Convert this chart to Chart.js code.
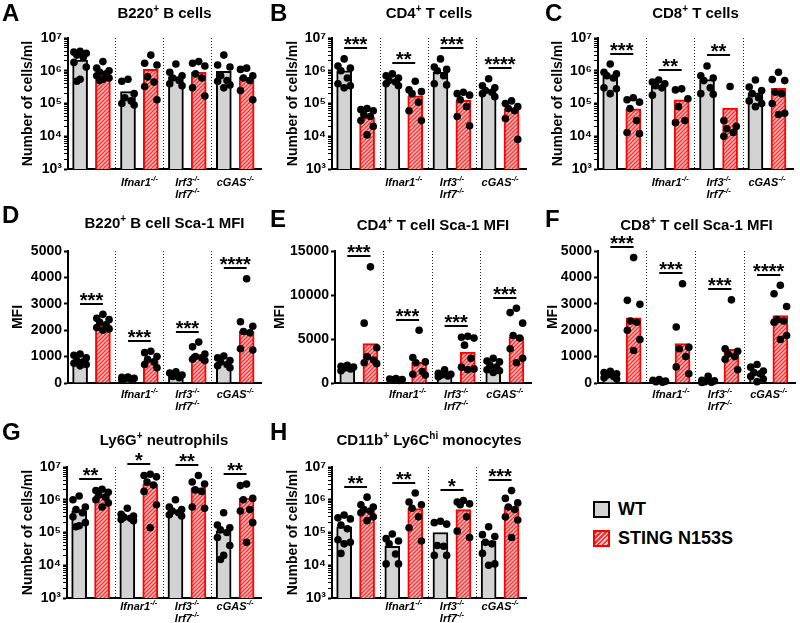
<!DOCTYPE html>
<html>
<head>
<meta charset="utf-8">
<script src="https://cdn.jsdelivr.net/npm/chart.js@4.4.1/dist/chart.umd.min.js"></script>
<style>
  body { margin: 0; background: #fff; width: 800px; height: 623px; position: relative; overflow: hidden;
         font-family: 'Liberation Sans', Arial, sans-serif; }
  canvas { position: absolute; }
  .sw { position: absolute; left: 593px; width: 13px; height: 13px; border: 2px solid #000; background: #d3d3d3; }
  .sw.st { border-color: #ff0000;
           background: repeating-linear-gradient(135deg, #ff3030 0 1.5px, #ffc4c4 1.5px 3.5px); }
  .lg { position: absolute; left: 618px; font-weight: bold; font-size: 18px; line-height: 20px; }
</style>
</head>
<body>
<div class="sw" style="top:501px"></div><div class="lg" style="top:499px">WT</div>
<div class="sw st" style="top:530px"></div><div class="lg" style="top:528px">STING N153S</div>
<script>
// ---- data ----
const groupLabels = [[], [['Ifnar1', '-/-']], [['Irf3', '-/-'], ['Irf7', '-/-']], [['cGAS', '-/-']]];
const titles = [
  [['B220', 0], ['+', 1], [' B cells', 0]],
  [['CD4', 0], ['+', 1], [' T cells', 0]],
  [['CD8', 0], ['+', 1], [' T cells', 0]],
  [['B220', 0], ['+', 1], [' B cell Sca-1 MFI', 0]],
  [['CD4', 0], ['+', 1], [' T cell Sca-1 MFI', 0]],
  [['CD8', 0], ['+', 1], [' T cell Sca-1 MFI', 0]],
  [['Ly6G', 0], ['+', 1], [' neutrophils', 0]],
  [['CD11b', 0], ['+', 1], [' Ly6C', 0], ['hi', 1], [' monocytes', 0]]
];
const countLabel = 'Number of cells/ml';
const mfiLabel = 'MFI';
const logTicks = [1e3, 1e4, 1e5, 1e6, 1e7];
const mfi5Ticks = [0, 1000, 2000, 3000, 4000, 5000];
const mfi15Ticks = [0, 5000, 10000, 15000];

const aWtMean = [2.1e6, 2.3e5, 6.6e5, 9.6e5];
const aStMean = [8.7e5, 1.1e6, 9e5, 6.3e5];
const aWtPts = [[3.9e6, 3.7e6, 3.4e6, 3.0e6, 2.6e6, 1.8e6, 1.3e6, 5.5e5, 4.8e5], [5.5e5, 4.8e5, 2e5, 1.5e5, 1.2e5, 1e5, 9e4], [1.6e6, 9e5, 7e5, 6e5, 5e5, 4e5, 3.5e5], [3e6, 1.5e6, 1.3e6, 7e5, 5e5, 4.8e5, 3.7e5, 3e5]];
const aStPts = [[1.9e6, 1.2e6, 1.0e6, 9e5, 8e5, 7e5, 6e5, 5.5e5, 5e5], [3e6, 1.7e6, 1.5e6, 6.5e5, 4.5e5, 3.3e5, 1.3e5], [1.9e6, 1.7e6, 1.4e6, 8e5, 6e5, 3e5, 1.7e5], [1.2e6, 1.1e6, 7e5, 6e5, 5e5, 2.5e5, 1.3e5]];
const aStars = ['', '', '', ''];

const bWtMean = [1.0e6, 5.2e5, 9.1e5, 2.4e5];
const bStMean = [3.8e4, 1.7e5, 1.26e5, 6.7e4];
const bWtPts = [[2.3e6, 1.4e6, 1.2e6, 1e6, 6e5, 4e5, 3.5e5, 3e5], [8e5, 7e5, 6e5, 5e5, 4.5e5, 4e5, 3.5e5], [2.3e6, 1.3e6, 1.1e6, 1e6, 7e5, 4e5, 3.7e5], [5.7e5, 3.5e5, 3e5, 2.5e5, 2.2e5, 2e5, 1.6e5]];
const bStPts = [[7e4, 6.5e4, 6e4, 4.5e4, 4e4, 3e4, 2e4, 1.1e4], [4.8e5, 2.6e5, 2.3e5, 2e5, 1.1e5, 6e4, 3e4], [2.2e5, 2e5, 1.8e5, 1.3e5, 8e4, 4e4, 2.1e4], [1.2e5, 1e5, 8e4, 7e4, 6e4, 3.5e4, 8e3]];
const bStars = ['***', '**', '***', '****'];

const cWtMean = [6.8e5, 3.4e5, 5.4e5, 2.1e5];
const cStMean = [6.9e4, 1.3e5, 7.2e4, 2.9e5];
const cWtPts = [[1.6e6, 9e5, 8e5, 7e5, 6e5, 3e5, 2.8e5, 2e5], [5.2e5, 4.5e5, 4e5, 3.5e5, 3e5, 1.8e5], [1.4e6, 7e5, 6e5, 5e5, 3e5, 2e5, 1.9e5], [5.2e5, 3.2e5, 2.5e5, 2e5, 1.5e5, 1.2e5, 1e5, 8e4]];
const cStPts = [[1.5e5, 1.3e5, 1.1e5, 7e4, 3e4, 1.3e4, 1.2e4], [2.8e5, 2.6e5, 1.4e5, 8e4, 3e4, 2.6e4], [3.3e5, 3e4, 2e4, 1.7e4, 1.3e4, 1e4], [9e5, 5.4e5, 5e5, 2.2e5, 2e5, 1e5, 5e4, 4.6e4]];
const cStars = ['***', '**', '**', ''];

const dWtMean = [880, 190, 290, 780];
const dStMean = [2200, 850, 1080, 1970];
const dWtPts = [[1100, 1050, 950, 850, 800, 750, 700, 650], [230, 220, 180, 150, 130, 110], [420, 380, 300, 250, 200], [1020, 950, 850, 800, 700, 650, 580]];
const dStPts = [[2600, 2450, 2400, 2300, 2200, 2100, 2050, 2000], [1200, 1150, 1000, 900, 800, 700, 580], [1550, 1370, 1100, 1000, 950, 900, 850], [3950, 2320, 2150, 1950, 1900, 1300, 1250]];
const dStars = ['***', '***', '***', '****'];

const eWtMean = [1520, 420, 1000, 1820];
const eStMean = [4480, 2350, 3500, 5240];
const eWtPts = [[2000, 1900, 1800, 1700, 1600, 1400], [500, 450, 400, 350, 300], [1500, 1100, 1000, 900, 800, 700], [2800, 2500, 2400, 2000, 1800, 1500, 1400, 1200]];
const eStPts = [[13200, 6800, 4000, 3000, 2600, 2300, 2200], [6000, 2900, 2400, 2300, 1300, 1000, 900], [5300, 5200, 5100, 4300, 2800, 1800, 1600, 1500], [8500, 8000, 6800, 5400, 5100, 3900, 2800, 2300]];
const eStars = ['***', '***', '***', '***'];

const fWtMean = [290, 70, 40, 350];
const fStMean = [2470, 1490, 1280, 2550];
const fWtPts = [[440, 400, 350, 300, 250, 200, 150], [130, 100, 70, 50, 30], [250, 100, 80, 50, 30, 20], [700, 600, 450, 400, 350, 250, 150, 50]];
const fStPts = [[4750, 3130, 2980, 2350, 2300, 2000, 1650, 1230], [3760, 2120, 1350, 1300, 1000, 610, 350], [3150, 1300, 1200, 1100, 1000, 900, 500], [3700, 3380, 2900, 2400, 2350, 2300, 1800, 1650]];
const fStars = ['***', '***', '***', '****'];

const gWtMean = [4.6e5, 3e5, 4.8e5, 1.1e5];
const gStMean = [1.38e6, 3e6, 2.3e6, 1.1e6];
const gWtPts = [[1.3e6, 1e6, 6e5, 5e5, 4e5, 3e5, 2e5, 1.6e5, 1.5e5], [5.5e5, 3.6e5, 3.2e5, 2.9e5, 2.7e5, 2.5e5, 2.3e5], [1e6, 6e5, 5e5, 4.5e5, 4e5, 3.5e5, 3.2e5], [4e5, 1.7e5, 1.4e5, 1.2e5, 1e5, 7e4, 4e4, 2e4, 1.5e4]];
const gStPts = [[2.1e6, 1.9e6, 1.7e6, 1.4e6, 1.2e6, 1e6, 8e5, 6e5], [6e6, 5.5e6, 5e6, 3.5e6, 2.8e6, 1.8e6, 7e5, 1.4e5], [5.5e6, 3.5e6, 3e6, 2e6, 1.8e6, 6e5, 5.5e5], [3e6, 2.7e6, 1.1e6, 1e6, 5e5, 4.5e5, 2e5, 5e4]];
const gStars = ['**', '*', '**', '**'];

const hWtMean = [1.5e5, 3.8e4, 1e5, 5.4e4];
const hStMean = [5e5, 5.4e5, 5e5, 6e5];
const hWtPts = [[3.4e5, 2.8e5, 2.6e5, 1.7e5, 1.3e5, 6e4, 5e4, 4.5e4, 2.3e4], [9e4, 6.5e4, 5.5e4, 4.5e4, 2.2e4, 1.1e4, 1.1e4], [2.2e5, 2e5, 1.8e5, 4e4, 3.8e4, 2e4, 2e4], [1.5e5, 8.6e4, 7.5e4, 5e4, 4.5e4, 2.3e4, 1.1e4, 1e4]];
const hStPts = [[1.2e6, 7e5, 6e5, 5e5, 4.5e5, 4e5, 3e5, 2.3e5], [1.6e6, 8.5e5, 7e5, 5.5e5, 3e5, 1.4e5, 5.5e4], [9.5e5, 8.5e5, 7.5e5, 7e5, 3e5, 1.1e5, 7e4], [1.9e6, 1.1e6, 8e5, 6e5, 5e5, 3e5, 2.4e5, 7e4]];
const hStars = ['**', '**', '*', '***'];

// ---- layout ----
const FONT = "'Liberation Sans', Arial, sans-serif";
Chart.defaults.font.family = FONT;
Chart.defaults.color = '#000';
const SUP = {3: '\u00b3', 4: '\u2074', 5: '\u2075', 6: '\u2076', 7: '\u2077'};
const JITTER = [0, -0.27, 0.27, -0.14, 0.14, -0.27, 0.27, 0, -0.14, 0.14];
const slot = (g, m) => g * 2.1 + m;

// lb = baseline offset of the genotype labels below the x axis
const panels = [
  {letter: 'A', title: titles[0], box: [0, 0, 265, 200], ax: 68, right: 262, top: 38, bottom: 169, yt: 28, titleY: 13, lp: [2, 21], lb: 17, ticks: logTicks, yLabel: countLabel, wtMean: aWtMean, stMean: aStMean, wtPts: aWtPts, stPts: aStPts, stars: aStars},
  {letter: 'B', title: titles[1], box: [265, 0, 265, 200], ax: 332, right: 527, top: 38, bottom: 169, yt: 28, titleY: 13, lp: [5, 21], lb: 17, ticks: logTicks, yLabel: countLabel, wtMean: bWtMean, stMean: bStMean, wtPts: bWtPts, stPts: bStPts, stars: bStars},
  {letter: 'C', title: titles[2], box: [530, 0, 270, 200], ax: 598, right: 793, top: 38, bottom: 169, yt: 28, titleY: 13, lp: [15, 21], lb: 17, ticks: logTicks, yLabel: countLabel, wtMean: cWtMean, stMean: cStMean, wtPts: cWtPts, stPts: cStPts, stars: cStars},
  {letter: 'D', title: titles[3], box: [0, 200, 265, 210], ax: 68, right: 262, top: 251, bottom: 383, yt: 18, titleY: 23, lp: [2, 23], lb: 15, ticks: mfi5Ticks, yLabel: mfiLabel, wtMean: dWtMean, stMean: dStMean, wtPts: dWtPts, stPts: dStPts, stars: dStars},
  {letter: 'E', title: titles[4], box: [265, 200, 270, 210], ax: 335, right: 532, top: 251, bottom: 383, yt: 15, titleY: 25, lp: [5, 27], lb: 15, ticks: mfi15Ticks, yLabel: mfiLabel, wtMean: eWtMean, stMean: eStMean, wtPts: eWtPts, stPts: eStPts, stars: eStars},
  {letter: 'F', title: titles[5], box: [530, 200, 270, 210], ax: 598, right: 795, top: 251, bottom: 383, yt: 23, titleY: 25, lp: [15, 27], lb: 15, ticks: mfi5Ticks, yLabel: mfiLabel, wtMean: fWtMean, stMean: fStMean, wtPts: fWtPts, stPts: fStPts, stars: fStars},
  {letter: 'G', title: titles[6], box: [0, 410, 265, 213], ax: 67, right: 262, top: 467, bottom: 598, yt: 28, titleY: 30, lp: [2, 30], lb: 12, ticks: logTicks, yLabel: countLabel, wtMean: gWtMean, stMean: gStMean, wtPts: gWtPts, stPts: gStPts, stars: gStars},
  {letter: 'H', title: titles[7], box: [265, 410, 265, 213], ax: 332, right: 527, top: 467, bottom: 598, yt: 28, titleY: 30, lp: [5, 30], lb: 12, ticks: logTicks, yLabel: countLabel, wtMean: hWtMean, stMean: hStMean, wtPts: hWtPts, stPts: hStPts, stars: hStars}
];

function hatchPattern() {
  const c = document.createElement('canvas');
  c.width = c.height = 4;
  const g = c.getContext('2d');
  g.fillStyle = '#ffc4c4';
  g.fillRect(0, 0, 4, 4);
  g.strokeStyle = '#ff2e2e';
  g.lineWidth = 1.4;
  g.beginPath();
  g.moveTo(-1, 5); g.lineTo(5, -1);
  g.moveTo(-1, 1); g.lineTo(1, -1);
  g.moveTo(3, 5); g.lineTo(5, 3);
  g.stroke();
  return g.createPattern(c, 'repeat');
}
const HATCH = hatchPattern();

function segText(ctx, segs, cx, y, size, supSize, style) {
  const fb = style + ' ' + size + 'px ' + FONT, fs = style + ' ' + supSize + 'px ' + FONT;
  let w = 0;
  segs.forEach(s => { ctx.font = s[1] ? fs : fb; w += ctx.measureText(s[0]).width; });
  let x = cx - w / 2;
  ctx.textAlign = 'left';
  ctx.textBaseline = 'alphabetic';
  segs.forEach(s => {
    ctx.font = s[1] ? fs : fb;
    ctx.fillText(s[0], x, s[1] ? y - size * 0.42 : y);
    x += ctx.measureText(s[0]).width;
  });
}

function drawDecor(chart, p) {
  const {ctx, chartArea: ca, scales: {x, y}} = chart;
  ctx.save();
  ctx.fillStyle = '#000';
  // panel letter and title
  ctx.font = 'bold 24px ' + FONT;
  ctx.textAlign = 'left';
  ctx.textBaseline = 'alphabetic';
  ctx.fillText(p.letter, p.lp[0], p.lp[1]);
  segText(ctx, p.title, (ca.left + ca.right) / 2, p.titleY + 5, 15, 10, 'bold');
  // dotted separators
  ctx.strokeStyle = '#222';
  ctx.lineWidth = 1;
  ctx.setLineDash([1, 2]);
  for (let g = 1; g < 4; g++) {
    const px = Math.round(x.getPixelForValue(slot(g, 0) - 0.55)) + 0.5;
    ctx.beginPath();
    ctx.moveTo(px, ca.top);
    ctx.lineTo(px, ca.bottom);
    ctx.stroke();
  }
  ctx.setLineDash([]);
  // genotype labels
  groupLabels.forEach((lines, g) => {
    const cx = x.getPixelForValue(slot(g, 0) + 0.5);
    lines.forEach((ln, i) => segText(ctx, [[ln[0], 0], [ln[1], 1]], cx, ca.bottom + p.lb + i * 12, 11, 7.5, 'italic bold'));
  });
  // significance bars
  ctx.strokeStyle = '#000';
  ctx.lineWidth = 2;
  p.stars.forEach((st, g) => {
    if (!st) return;
    const top = Math.max(...p.wtPts[g], ...p.stPts[g], p.wtMean[g], p.stMean[g]);
    const ly = Math.round(y.getPixelForValue(top) - 0.08 * (ca.bottom - ca.top));
    const x0 = x.getPixelForValue(slot(g, 0)), x1 = x.getPixelForValue(slot(g, 1));
    ctx.beginPath();
    ctx.moveTo(x0, ly);
    ctx.lineTo(x1, ly);
    ctx.stroke();
    ctx.font = 'bold 20px ' + FONT;
    ctx.textAlign = 'center';
    ctx.fillText(st, (x0 + x1) / 2, ly + 3);
  });
  ctx.restore();
}

function makeChart(p) {
  const [bx, by, bw, bh] = p.box;
  const cv = document.createElement('canvas');
  cv.width = bw; cv.height = bh;
  cv.style.left = bx + 'px'; cv.style.top = by + 'px';
  document.body.appendChild(cv);

  const log = p.ticks === logTicks;
  const padL = p.yt - 8.4;
  let tickVals = p.ticks;
  if (log) {
    tickVals = [];
    for (let i = 0; i < p.ticks.length - 1; i++)
      for (let k = 1; k < 10; k++) tickVals.push(k * p.ticks[i]);
    tickVals.push(p.ticks[p.ticks.length - 1]);
  }
  const isMajor = v => p.ticks.includes(v);

  const points = [];
  p.wtPts.forEach((arr, g) => arr.forEach((v, i) => points.push({x: slot(g, 0) + JITTER[i % JITTER.length], y: v})));
  p.stPts.forEach((arr, g) => arr.forEach((v, i) => points.push({x: slot(g, 1) + JITTER[i % JITTER.length], y: v})));

  new Chart(cv, {
    data: {
      datasets: [
        {type: 'scatter', data: points, order: 0, pointRadius: 3.8, pointBackgroundColor: '#000', pointBorderWidth: 0, clip: false},
        {type: 'bar', data: p.wtMean.map((v, g) => ({x: slot(g, 0), y: v})), order: 1, backgroundColor: '#d3d3d3', borderColor: '#000', borderWidth: 2, barThickness: 15, grouped: false},
        {type: 'bar', data: p.stMean.map((v, g) => ({x: slot(g, 1), y: v})), order: 1, backgroundColor: HATCH, borderColor: '#ff0000', borderWidth: 2, barThickness: 15, grouped: false}
      ]
    },
    options: {
      responsive: false,
      animation: false,
      devicePixelRatio: 1,
      layout: {padding: {left: padL, top: p.top - by, right: bw - (p.right - bx), bottom: bh - (p.bottom - by)}},
      plugins: {legend: {display: false}, tooltip: {enabled: false}},
      scales: {
        x: {
          type: 'linear', min: -0.53, max: 7.93, offset: false,
          ticks: {display: false},
          grid: {display: false},
          border: {display: true, color: '#000', width: 2},
          afterFit: s => { s.height = 0; }
        },
        y: {
          type: log ? 'logarithmic' : 'linear',
          min: p.ticks[0], max: p.ticks[p.ticks.length - 1],
          afterBuildTicks: s => { s.ticks = tickVals.map(v => ({value: v})); },
          ticks: {
            autoSkip: false, padding: 2, color: '#000',
            font: {size: 14, weight: 'bold'},
            callback: v => !isMajor(v) ? '' : (log ? '10' + SUP[Math.round(Math.log10(v))] : String(v))
          },
          grid: {
            drawOnChartArea: false, drawTicks: true, tickLength: 4, tickColor: '#000',
            tickWidth: c => (c.tick && isMajor(c.tick.value)) ? 2 : 1
          },
          border: {display: true, color: '#000', width: 2},
          title: {display: true, text: p.yLabel, color: '#000', font: {size: 14, weight: 'bold'}, padding: {top: 0, bottom: 0}},
          afterFit: s => { s.width = p.ax - bx - padL; }
        }
      }
    },
    plugins: [{id: 'decor', afterDraw: chart => drawDecor(chart, p)}]
  });
}

panels.forEach(makeChart);
</script>
</body>
</html>
